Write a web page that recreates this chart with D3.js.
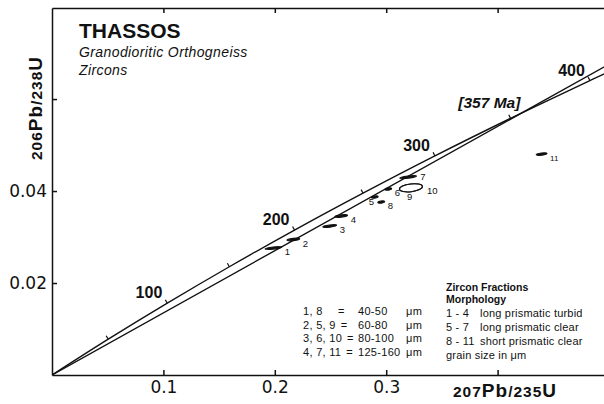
<!DOCTYPE html>
<html>
<head>
<meta charset="utf-8">
<script src="https://cdn.jsdelivr.net/npm/d3@7"></script>
<style>
  body { margin: 0; background: #fff; }
  svg { display: block; font-family: "Liberation Sans", Arial, sans-serif; }
</style>
</head>
<body>
<svg id="mainsvg" width="604" height="404"></svg>
<script>
// concordia (Ma, 207Pb/235U, 206Pb/238U)
const concordiaAge = [0, 50, 100, 150, 200, 250, 300, 350, 400, 410];
const concordiaX = [0, 0.0505, 0.1035, 0.1592, 0.2177, 0.2792, 0.3437, 0.4116, 0.4828, 0.4975];
const concordiaY = [0, 0.00779, 0.01563, 0.02354, 0.03151, 0.03954, 0.04764, 0.0558, 0.06402, 0.06567];
const ageLabels = [100, 200, 300, 400];

// discordia through the origin and the upper intercept
const interceptAge = 357;
const discordiaX = [0, 0.4213, 0.4975];
const discordiaY = [0, 0.05694, 0.06724];

// zircon fractions
const fraction = ["1", "2", "3", "4", "5", "6", "7", "8", "9", "10", "11"];
const ratio207 = [0.1987, 0.2166, 0.2493, 0.2596, 0.2897, 0.3018, 0.3197, 0.2955, 0.3222, 0.3222, 0.4395];
const ratio206 = [0.02761, 0.02946, 0.03239, 0.03457, 0.0387, 0.04043, 0.04304, 0.03761, 0.0407, 0.0407, 0.04804];
const err207 = [0.0076, 0.0058, 0.0063, 0.0058, 0.0031, 0.0031, 0.0076, 0.0031, 0.0104, 0.0104, 0.0049];
const err206 = [0.00024, 0.00024, 0.00024, 0.00024, 0.00024, 0.00024, 0.00024, 0.00024, 0.00085, 0.00085, 0.00024];

// axis ticks
const xTicks = [0.1, 0.2, 0.3, 0.4];
const xTickLabels = ["0.1", "0.2", "0.3", ""];
const yTicks = [0.02, 0.04, 0.06];
const yTickLabels = ["0.02", "0.04", ""];

// legend texts
const sizeFractions = ["1, 8", "2, 5, 9", "3, 6, 10", "4, 7, 11"];
const sizeRanges = ["40-50", "60-80", "80-100", "125-160"];
const morphFractions = ["1 - 4", "5 - 7", "8 - 11"];
const morphTypes = ["long prismatic turbid", "long prismatic clear", "short prismatic clear"];

const svg = d3.select('#mainsvg');
const myWidth = +svg.attr('width');
const myHeight = +svg.attr('height');

const margin = { top: 8, right: 0, bottom: 29, left: 52 };
const innerWidth = myWidth - margin.left - margin.right;
const innerHeight = myHeight - margin.top - margin.bottom;

// 比例尺
const x = d3.scaleLinear().domain([0, 0.4955]).range([margin.left, margin.left + innerWidth]);
const y = d3.scaleLinear().domain([0, 0.0798]).range([margin.top + innerHeight, margin.top]);

svg.append("rect").attr("width", myWidth).attr("height", myHeight).attr("fill", "#fff");

svg.append("clipPath").attr("id", "plotclip")
  .append("rect")
  .attr("x", margin.left).attr("y", margin.top)
  .attr("width", innerWidth).attr("height", innerHeight);

// frame: bottom, top, left (ticks inward)
const bottomAxis = svg.append("g")
  .attr("transform", `translate(0,${y(0)})`)
  .call(d3.axisBottom(x).tickValues(xTicks).tickSize(-5).tickSizeOuter(0)
    .tickFormat((d, i) => xTickLabels[i]));
bottomAxis.selectAll("text")
  .attr("y", 18).attr("dy", null)
  .attr("font-family", "DejaVu Sans").attr("font-size", 17).attr("fill", "#111");

svg.append("g")
  .attr("transform", `translate(0,${y.range()[1]})`)
  .call(d3.axisTop(x).tickValues(xTicks).tickSize(-5).tickSizeOuter(0).tickFormat(""));

const leftAxis = svg.append("g")
  .attr("transform", `translate(${x(0)},0)`)
  .call(d3.axisLeft(y).tickValues(yTicks).tickSize(-5).tickSizeOuter(0).tickPadding(5)
    .tickFormat((d, i) => yTickLabels[i]));
leftAxis.selectAll("text")
  .attr("font-family", "DejaVu Sans").attr("font-size", 17).attr("fill", "#111");

svg.selectAll(".domain, .tick line").attr("stroke", "#111").attr("stroke-width", 1.5);

// axis titles
const xTitle = svg.append("text")
  .attr("x", 505).attr("y", 397)
  .attr("text-anchor", "middle")
  .attr("font-weight", "bold").attr("letter-spacing", 1).attr("fill", "#111");
xTitle.append("tspan").attr("font-size", 15.5).text("207");
xTitle.append("tspan").attr("font-size", 19).text("Pb");
xTitle.append("tspan").attr("font-size", 15.5).text("/235");
xTitle.append("tspan").attr("font-size", 19).text("U");

const yTitle = svg.append("text")
  .attr("transform", "translate(42,108) rotate(-90)")
  .attr("text-anchor", "middle")
  .attr("font-weight", "bold").attr("letter-spacing", 1).attr("fill", "#111");
yTitle.append("tspan").attr("font-size", 15.5).text("206");
yTitle.append("tspan").attr("font-size", 19).text("Pb");
yTitle.append("tspan").attr("font-size", 15.5).text("/238");
yTitle.append("tspan").attr("font-size", 19).text("U");

// title block
svg.append("text")
  .attr("x", 79).attr("y", 38)
  .attr("font-size", 21).attr("font-weight", "bold").attr("fill", "#111")
  .text("THASSOS");
svg.append("text")
  .attr("x", 79).attr("y", 57)
  .attr("font-size", 14).attr("font-style", "italic").attr("letter-spacing", 0.4).attr("fill", "#111")
  .text("Granodioritic Orthogneiss");
svg.append("text")
  .attr("x", 79).attr("y", 75)
  .attr("font-size", 14).attr("font-style", "italic").attr("letter-spacing", 0.4).attr("fill", "#111")
  .text("Zircons");

// concordia + discordia
const plot = svg.append("g").attr("clip-path", "url(#plotclip)");

const concordia = concordiaAge.map((t, i) => ({ t, x: concordiaX[i], y: concordiaY[i] }));
const discordia = discordiaX.map((v, i) => ({ x: v, y: discordiaY[i] }));

plot.append("path")
  .datum(concordia)
  .attr("d", d3.line().x(d => x(d.x)).y(d => y(d.y)).curve(d3.curveCatmullRom))
  .attr("fill", "none").attr("stroke", "#111").attr("stroke-width", 1.4);

plot.append("path")
  .datum(discordia)
  .attr("d", d3.line().x(d => x(d.x)).y(d => y(d.y)))
  .attr("fill", "none").attr("stroke", "#111").attr("stroke-width", 1.4);

// age ticks on the concordia (every 50 Ma)
const tickData = concordia.slice(1, concordia.length - 1).map((d, k) => {
  const prev = concordia[k], next = concordia[k + 2];
  const dx = x(next.x) - x(prev.x), dy = y(next.y) - y(prev.y);
  const len = Math.hypot(dx, dy);
  return { d, nx: dy / len, ny: -dx / len };
});

plot.append("g")
  .selectAll("line")
  .data(tickData)
  .join("line")
  .attr("x1", p => x(p.d.x))
  .attr("y1", p => y(p.d.y))
  .attr("x2", p => x(p.d.x) + p.nx * 4)
  .attr("y2", p => y(p.d.y) + p.ny * 4)
  .attr("stroke", "#111").attr("stroke-width", 1.2);

svg.append("g")
  .selectAll("text")
  .data(concordia.filter(d => ageLabels.includes(d.t)))
  .join("text")
  .attr("x", d => x(d.x) - 5)
  .attr("y", d => y(d.y) - 5)
  .attr("text-anchor", "end")
  .attr("font-size", 16).attr("font-weight", "bold").attr("fill", "#111")
  .text(d => d.t);

// upper intercept label
svg.append("text")
  .attr("x", x(discordiaX[1]) - 1)
  .attr("y", y(discordiaY[1]) - 5)
  .attr("text-anchor", "end")
  .attr("font-size", 15.5).attr("font-weight", "bold").attr("font-style", "italic").attr("fill", "#111")
  .text(`[${interceptAge} Ma]`);

// error ellipses
const points = fraction.map((f, i) => ({
  f, x: ratio207[i], y: ratio206[i], ex: err207[i], ey: err206[i]
}));

plot.append("g")
  .selectAll("ellipse")
  .data(points)
  .join("ellipse")
  .attr("transform", d => `translate(${x(d.x)},${y(d.y)}) rotate(-7)`)
  .attr("rx", d => x(d.ex) - x(0))
  .attr("ry", d => y(0) - y(d.ey))
  .attr("fill", d => (y(0) - y(d.ey)) < 2 ? "#111" : "none")
  .attr("stroke", "#111").attr("stroke-width", 1.1);

// label placement tweaks (px from centre)
const labelShift = { "5": [-6, 8], "7": [12, 3], "9": [-4, 12], "10": [16, 6] };

svg.append("g")
  .selectAll("text")
  .data(points)
  .join("text")
  .attr("x", d => labelShift[d.f] ? x(d.x) + labelShift[d.f][0] : x(d.x) + (x(d.ex) - x(0)) + 3)
  .attr("y", d => y(d.y) + (labelShift[d.f] ? labelShift[d.f][1] : 7))
  .attr("font-size", d => d.f === "11" ? 8 : 9.5)
  .attr("fill", "#111")
  .text(d => d.f);

// legend: grain size
const sizeG = svg.append("g").attr("font-size", 11).attr("letter-spacing", 0.3).attr("fill", "#111");
sizeFractions.forEach((s, i) => {
  const yy = 315 + i * 13.5;
  const t = sizeG.append("text").attr("x", 303).attr("y", yy).text(s);
  const w = t.node().getComputedTextLength();
  const eqX = Math.max(338, 303 + w + 5);
  sizeG.append("text").attr("x", eqX).attr("y", yy).text("=");
  const rX = Math.max(358, eqX + 10);
  const r = sizeG.append("text").attr("x", rX).attr("y", yy).text(sizeRanges[i]);
  const rEnd = rX + r.node().getComputedTextLength();
  sizeG.append("text").attr("x", Math.max(406, rEnd + 4)).attr("y", yy).text("μm");
});

// legend: morphology
const morphG = svg.append("g").attr("font-size", 11).attr("letter-spacing", 0.2).attr("fill", "#111");
morphG.append("text").attr("x", 446).attr("y", 291).attr("font-weight", "bold").attr("font-size", 10.5)
  .attr("letter-spacing", 0).text("Zircon Fractions");
morphG.append("text").attr("x", 446).attr("y", 303).attr("font-weight", "bold").attr("font-size", 10.5)
  .attr("letter-spacing", 0).text("Morphology");
morphFractions.forEach((m, i) => {
  const yy = 317 + i * 14;
  const t = morphG.append("text").attr("x", 446).attr("y", yy).text(m);
  const w = t.node().getComputedTextLength();
  morphG.append("text").attr("x", Math.max(480, 446 + w + 5)).attr("y", yy).text(morphTypes[i]);
});
morphG.append("text").attr("x", 446).attr("y", 359).text("grain size in μm");
</script>
</body>
</html>
